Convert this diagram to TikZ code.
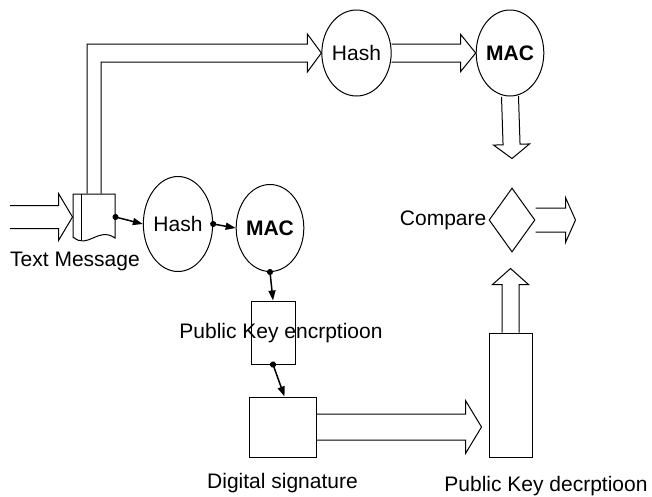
\documentclass[tikz,border=0pt]{standalone}
\usepackage{fontspec}
\setmainfont{Liberation Sans}
\usetikzlibrary{arrows.meta, positioning, shapes.geometric, calc}

% hollow block arrow: start, tip, half shaft, half head, head length
\newcommand\fatarrow[5]{%
  \coordinate (fa-h) at ($(#2)!#5!(#1)$);
  \draw[fat] ($(#1)!#3!90:(#2)$) -- ($(fa-h)!#3!-90:(#1)$) -- ($(fa-h)!#4!-90:(#1)$)
    -- (#2) -- ($(fa-h)!#4!90:(#1)$) -- ($(fa-h)!#3!90:(#1)$) -- ($(#1)!#3!-90:(#2)$);
}

\begin{document}
\begin{tikzpicture}[
  x=1pt, y=-1pt,
  font=\fontsize{21}{25}\selectfont,
  oval/.style={ellipse, draw, line width=1pt, inner sep=0pt},
  box/.style={rectangle, draw, line width=1pt, inner sep=0pt},
  fat/.style={draw, line width=1pt},
  link/.style={{Circle[length=6pt]}-{Triangle[length=10pt, width=7pt]}, line width=1.5pt, shorten <=-3pt}
]
\useasboundingbox (0,0) rectangle (652,496);

% text message
\node[box, draw=none, minimum width=42pt, minimum height=46pt] (msg) at (94,217) {};
\draw[line width=1pt] (73,238) -- (73,194) -- (115,194) -- (115,238)
  .. controls (98,226) and (88,250) .. (73,237);
\draw[line width=1pt] (81,194) -- (81,240);
\node (msgLbl) at (75,261) {Text Message};
\coordinate (in) at (10,217);

% upper path
\node[oval, minimum width=57pt, minimum height=86pt] (hashT) at (356.5,53) {Hash};
\node[oval, minimum width=56pt, minimum height=86pt] (macT) at (510,53) {\textbf{MAC}};
\node[diamond, draw, line width=1pt, inner sep=0pt, minimum width=46pt, minimum height=64pt] (cmp) at (512,220) {};
\node[left=0pt of cmp, inner sep=2pt] (cmpLbl) {Compare};
\coordinate (cmpIn) at ($(cmp.north)+(0,-29)$);
\coordinate (out) at ($(cmp.east)+(40,0)$);

% lower path
\node[oval, minimum width=62pt, minimum height=95pt] (hashB) at (178,224) {Hash};
\node[oval, minimum width=58pt, minimum height=87pt] (macB) at (270,228) {\textbf{MAC}};
\node[box, minimum width=44pt, minimum height=63pt] (enc) at (273,332.5) {};
\node (encLbl) at (281,333) {Public Key encrptioon};
\node[box, minimum width=67pt, minimum height=60pt] (sig) at (282.5,427) {};
\node[below=12pt of sig] (sigLbl) {Digital signature};
\node[box, minimum width=43pt, minimum height=124pt] (dec) at (510.5,395) {};
\node (decLbl) at (546,486) {Public Key decrptioon};
\coordinate (decIn) at ($(sig.east -| dec.west)+(-7,0)$);
\coordinate (decOut) at ($(dec.north)+(0,-64)$);

% block arrows
\fatarrow{in}{msg.west}{11.5pt}{23.5pt}{14pt}
\draw[fat] let \p1=(msg.north), \p2=(hashT.west) in
  (\x1-7pt,\y1) |- (\x2-14pt,\y2+9pt) -- (\x2-14pt,\y2+19pt) -- (\p2)
  -- (\x2-14pt,\y2-19pt) -- (\x2-14pt,\y2-9pt) -| (\x1+7pt,\y1);
\fatarrow{hashT.east}{macT.west}{9pt}{18.5pt}{15pt}
\fatarrow{macT.south}{cmpIn}{8.5pt}{18pt}{14pt}
\fatarrow{cmp.east}{out}{12pt}{22.5pt}{10pt}
\fatarrow{sig.east}{decIn}{13pt}{26.5pt}{16pt}
\fatarrow{dec.north}{decOut}{8.5pt}{18pt}{16pt}

% small links
\draw[link] (msg.east) -- (hashB.west);
\draw[link] (hashB.east) -- (macB.west);
\draw[link] (macB.south) -- (enc.north);
\draw[link] (enc.south) -- ([xshift=2pt]sig.north);
\end{tikzpicture}
\end{document}
